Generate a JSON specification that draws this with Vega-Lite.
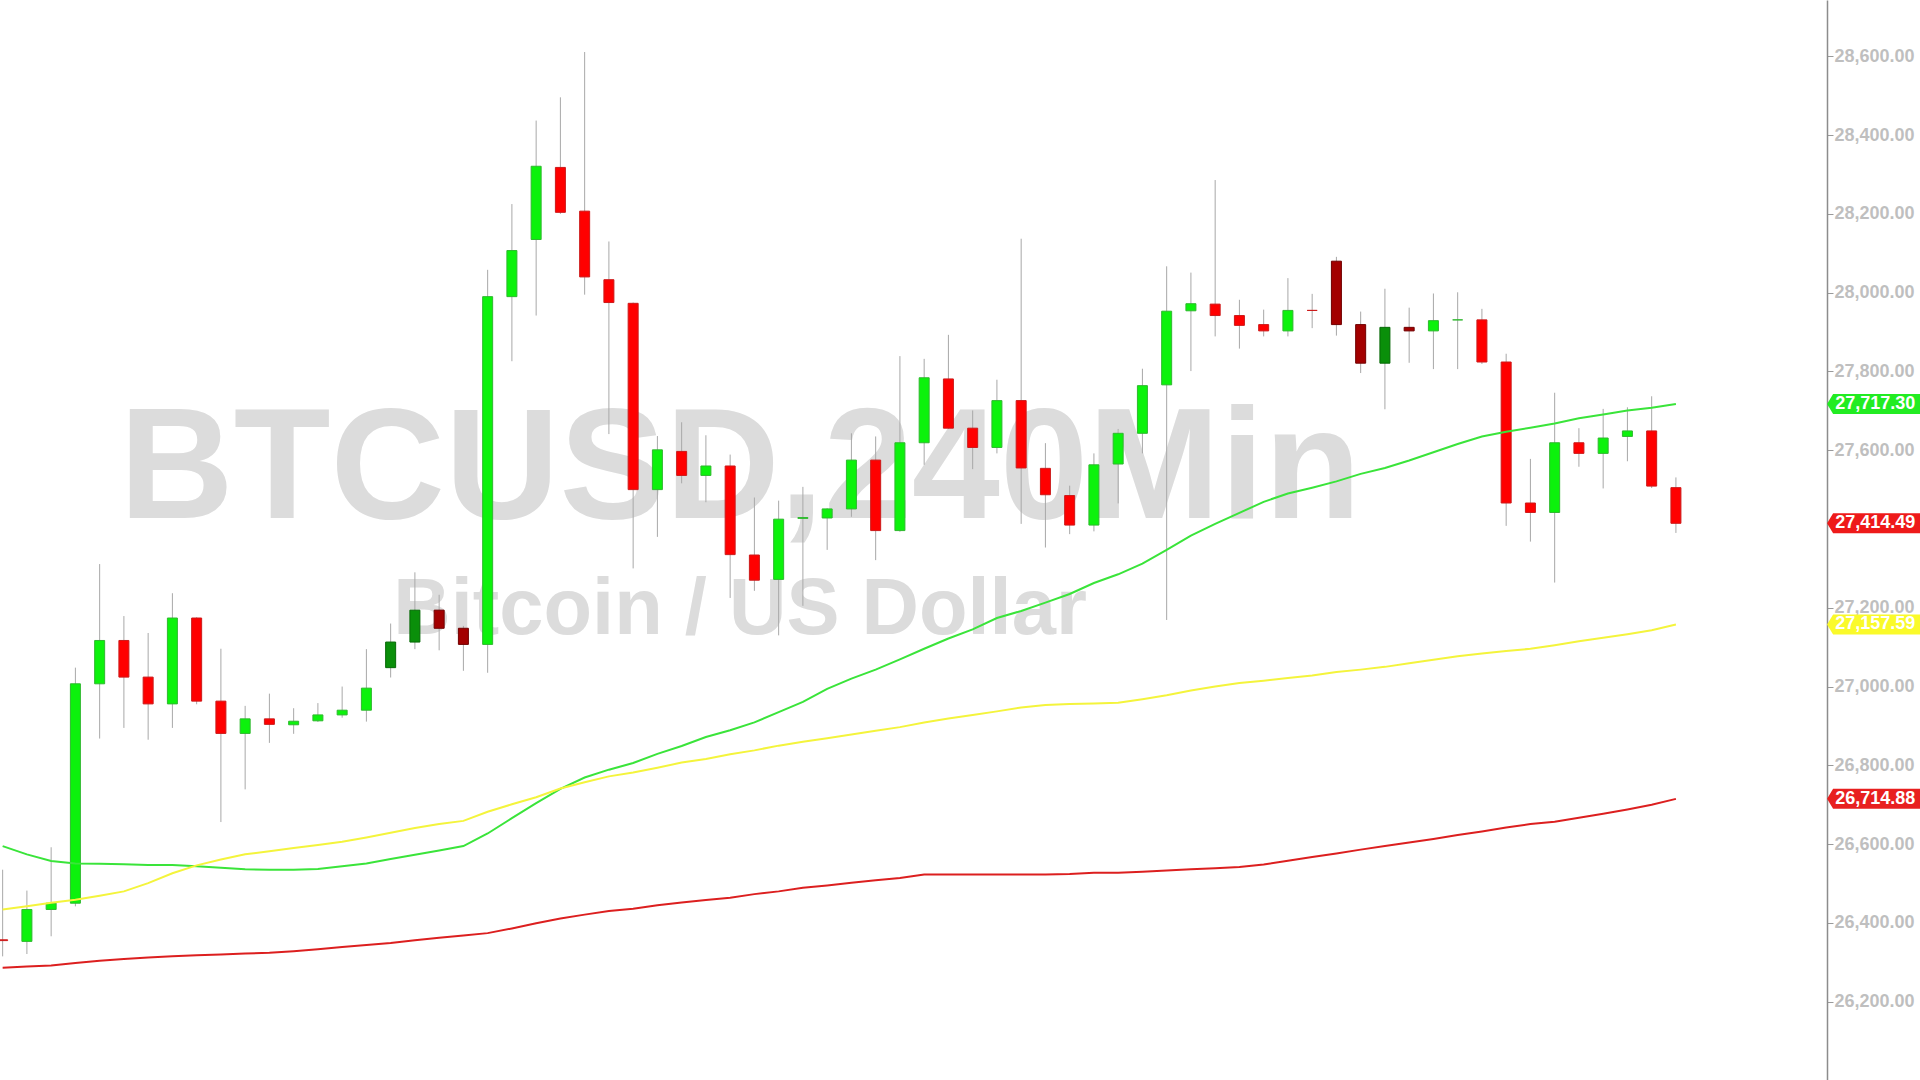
{
  "$schema": "https://vega.github.io/schema/vega-lite/v6.json",
  "width": 1827,
  "height": 1080,
  "autosize": {"type": "none"},
  "padding": {"left": 0, "top": 0, "right": 93, "bottom": 0},
  "background": "#ffffff",
  "config": {
    "view": {"stroke": null},
    "axisY": {"title": null, "grid": false, "domainColor": "#8c8c8c", "domainWidth": 1.5, "tickColor": "#9a9a9a", "tickSize": 6, "tickWidth": 1,
              "labelFont": "Liberation Sans", "labelFontSize": 18, "labelFontWeight": "bold", "labelColor": "#bfbfbf", "labelPadding": 1,
              "labelOverlap": false, "labelFlush": false, "zindex": 0}
  },
  "datasets": {
    "candles": [
      {"bar":0,"open":26357,"high":26535,"low":26315,"close":26355,"trend":"down","maFast":26595,"maMid":26434,"maSlow":26286},
      {"bar":1,"open":26353,"high":26482,"low":26321,"close":26434,"trend":"up","maFast":26574,"maMid":26442,"maSlow":26289},
      {"bar":2,"open":26434,"high":26592,"low":26366,"close":26450,"trend":"up","maFast":26557,"maMid":26451,"maSlow":26292},
      {"bar":3,"open":26450,"high":27048,"low":26442,"close":27007,"trend":"up","maFast":26551,"maMid":26459,"maSlow":26298},
      {"bar":4,"open":27007,"high":27311,"low":26868,"close":27117,"trend":"up","maFast":26550,"maMid":26469,"maSlow":26304},
      {"bar":5,"open":27117,"high":27179,"low":26895,"close":27024,"trend":"down","maFast":26549,"maMid":26480,"maSlow":26308},
      {"bar":6,"open":27024,"high":27136,"low":26865,"close":26956,"trend":"down","maFast":26547,"maMid":26501,"maSlow":26312},
      {"bar":7,"open":26956,"high":27237,"low":26895,"close":27174,"trend":"up","maFast":26547,"maMid":26526,"maSlow":26315},
      {"bar":8,"open":27174,"high":27176,"low":26955,"close":26963,"trend":"down","maFast":26544,"maMid":26546,"maSlow":26318},
      {"bar":9,"open":26963,"high":27096,"low":26656,"close":26881,"trend":"down","maFast":26540,"maMid":26561,"maSlow":26320},
      {"bar":10,"open":26881,"high":26951,"low":26739,"close":26918,"trend":"up","maFast":26536,"maMid":26574,"maSlow":26322},
      {"bar":11,"open":26918,"high":26982,"low":26857,"close":26904,"trend":"down","maFast":26535,"maMid":26582,"maSlow":26324},
      {"bar":12,"open":26903,"high":26945,"low":26880,"close":26912,"trend":"up","maFast":26535,"maMid":26590,"maSlow":26328},
      {"bar":13,"open":26913,"high":26958,"low":26910,"close":26928,"trend":"up","maFast":26537,"maMid":26598,"maSlow":26333},
      {"bar":14,"open":26928,"high":27000,"low":26921,"close":26940,"trend":"up","maFast":26544,"maMid":26606,"maSlow":26339},
      {"bar":15,"open":26940,"high":27095,"low":26911,"close":26996,"trend":"up","maFast":26551,"maMid":26617,"maSlow":26344},
      {"bar":16,"open":27048,"high":27160,"low":27023,"close":27113,"trend":"upDark","maFast":26562,"maMid":26629,"maSlow":26349},
      {"bar":17,"open":27113,"high":27290,"low":27095,"close":27194,"trend":"upDark","maFast":26573,"maMid":26641,"maSlow":26356},
      {"bar":18,"open":27194,"high":27233,"low":27092,"close":27148,"trend":"downDark","maFast":26584,"maMid":26651,"maSlow":26362},
      {"bar":19,"open":27148,"high":27154,"low":27040,"close":27107,"trend":"downDark","maFast":26595,"maMid":26659,"maSlow":26368},
      {"bar":20,"open":27107,"high":28058,"low":27035,"close":27990,"trend":"up","maFast":26627,"maMid":26682,"maSlow":26374},
      {"bar":21,"open":27990,"high":28225,"low":27826,"close":28107,"trend":"up","maFast":26666,"maMid":26701,"maSlow":26386},
      {"bar":22,"open":28135,"high":28437,"low":27942,"close":28321,"trend":"up","maFast":26704,"maMid":26719,"maSlow":26399},
      {"bar":23,"open":28318,"high":28496,"low":28200,"close":28204,"trend":"down","maFast":26740,"maMid":26741,"maSlow":26411},
      {"bar":24,"open":28207,"high":28611,"low":27995,"close":28040,"trend":"down","maFast":26769,"maMid":26757,"maSlow":26421},
      {"bar":25,"open":28033,"high":28130,"low":27641,"close":27975,"trend":"down","maFast":26789,"maMid":26772,"maSlow":26430},
      {"bar":26,"open":27973,"high":27975,"low":27300,"close":27500,"trend":"down","maFast":26806,"maMid":26782,"maSlow":26436},
      {"bar":27,"open":27500,"high":27636,"low":27380,"close":27601,"trend":"up","maFast":26829,"maMid":26794,"maSlow":26445},
      {"bar":28,"open":27597,"high":27671,"low":27516,"close":27536,"trend":"down","maFast":26849,"maMid":26807,"maSlow":26452},
      {"bar":29,"open":27536,"high":27638,"low":27468,"close":27560,"trend":"up","maFast":26872,"maMid":26816,"maSlow":26458},
      {"bar":30,"open":27560,"high":27589,"low":27225,"close":27335,"trend":"down","maFast":26889,"maMid":26828,"maSlow":26464},
      {"bar":31,"open":27334,"high":27480,"low":27243,"close":27270,"trend":"down","maFast":26909,"maMid":26838,"maSlow":26473},
      {"bar":32,"open":27272,"high":27472,"low":27130,"close":27425,"trend":"up","maFast":26935,"maMid":26850,"maSlow":26480},
      {"bar":33,"open":27427,"high":27507,"low":27205,"close":27429,"trend":"up","maFast":26961,"maMid":26860,"maSlow":26489},
      {"bar":34,"open":27428,"high":27453,"low":27347,"close":27451,"trend":"up","maFast":26994,"maMid":26869,"maSlow":26495},
      {"bar":35,"open":27451,"high":27643,"low":27431,"close":27575,"trend":"up","maFast":27020,"maMid":26878,"maSlow":26502},
      {"bar":36,"open":27575,"high":27635,"low":27321,"close":27396,"trend":"down","maFast":27043,"maMid":26888,"maSlow":26508},
      {"bar":37,"open":27396,"high":27839,"low":27393,"close":27619,"trend":"up","maFast":27069,"maMid":26897,"maSlow":26514},
      {"bar":38,"open":27619,"high":27832,"low":27563,"close":27784,"trend":"up","maFast":27096,"maMid":26909,"maSlow":26523},
      {"bar":39,"open":27781,"high":27893,"low":27654,"close":27656,"trend":"down","maFast":27122,"maMid":26919,"maSlow":26523},
      {"bar":40,"open":27656,"high":27701,"low":27552,"close":27607,"trend":"down","maFast":27145,"maMid":26928,"maSlow":26523},
      {"bar":41,"open":27607,"high":27779,"low":27592,"close":27726,"trend":"up","maFast":27174,"maMid":26937,"maSlow":26523},
      {"bar":42,"open":27726,"high":28137,"low":27413,"close":27555,"trend":"down","maFast":27192,"maMid":26947,"maSlow":26523},
      {"bar":43,"open":27554,"high":27618,"low":27353,"close":27487,"trend":"down","maFast":27213,"maMid":26953,"maSlow":26523},
      {"bar":44,"open":27485,"high":27510,"low":27387,"close":27410,"trend":"down","maFast":27235,"maMid":26956,"maSlow":26524},
      {"bar":45,"open":27410,"high":27592,"low":27394,"close":27563,"trend":"up","maFast":27263,"maMid":26957,"maSlow":26527},
      {"bar":46,"open":27565,"high":27654,"low":27465,"close":27643,"trend":"up","maFast":27285,"maMid":26959,"maSlow":26527},
      {"bar":47,"open":27643,"high":27807,"low":27592,"close":27764,"trend":"up","maFast":27312,"maMid":26968,"maSlow":26530},
      {"bar":48,"open":27766,"high":28067,"low":27169,"close":27953,"trend":"up","maFast":27347,"maMid":26978,"maSlow":26533},
      {"bar":49,"open":27954,"high":28051,"low":27801,"close":27972,"trend":"up","maFast":27383,"maMid":26990,"maSlow":26536},
      {"bar":50,"open":27971,"high":28286,"low":27889,"close":27942,"trend":"down","maFast":27413,"maMid":27000,"maSlow":26539},
      {"bar":51,"open":27942,"high":27982,"low":27858,"close":27917,"trend":"down","maFast":27441,"maMid":27009,"maSlow":26542},
      {"bar":52,"open":27919,"high":27957,"low":27889,"close":27903,"trend":"down","maFast":27469,"maMid":27015,"maSlow":26548},
      {"bar":53,"open":27903,"high":28037,"low":27889,"close":27955,"trend":"up","maFast":27490,"maMid":27022,"maSlow":26558},
      {"bar":54,"open":27955,"high":27997,"low":27910,"close":27955,"trend":"down","maFast":27505,"maMid":27028,"maSlow":26567},
      {"bar":55,"open":28080,"high":28091,"low":27891,"close":27919,"trend":"downDark","maFast":27521,"maMid":27037,"maSlow":26576},
      {"bar":56,"open":27919,"high":27952,"low":27796,"close":27821,"trend":"downDark","maFast":27540,"maMid":27043,"maSlow":26586},
      {"bar":57,"open":27821,"high":28010,"low":27704,"close":27912,"trend":"upDark","maFast":27555,"maMid":27050,"maSlow":26595},
      {"bar":58,"open":27912,"high":27962,"low":27822,"close":27903,"trend":"downDark","maFast":27574,"maMid":27059,"maSlow":26604},
      {"bar":59,"open":27903,"high":27998,"low":27806,"close":27929,"trend":"up","maFast":27595,"maMid":27068,"maSlow":26613},
      {"bar":60,"open":27931,"high":28001,"low":27806,"close":27931,"trend":"up","maFast":27616,"maMid":27077,"maSlow":26623},
      {"bar":61,"open":27931,"high":27959,"low":27819,"close":27824,"trend":"down","maFast":27635,"maMid":27084,"maSlow":26632},
      {"bar":62,"open":27824,"high":27845,"low":27408,"close":27466,"trend":"down","maFast":27647,"maMid":27090,"maSlow":26642},
      {"bar":63,"open":27466,"high":27578,"low":27368,"close":27442,"trend":"down","maFast":27657,"maMid":27096,"maSlow":26651},
      {"bar":64,"open":27442,"high":27746,"low":27264,"close":27619,"trend":"up","maFast":27668,"maMid":27105,"maSlow":26657},
      {"bar":65,"open":27619,"high":27656,"low":27558,"close":27592,"trend":"down","maFast":27681,"maMid":27115,"maSlow":26667},
      {"bar":66,"open":27592,"high":27705,"low":27503,"close":27631,"trend":"up","maFast":27691,"maMid":27124,"maSlow":26677},
      {"bar":67,"open":27635,"high":27709,"low":27572,"close":27649,"trend":"up","maFast":27701,"maMid":27133,"maSlow":26688},
      {"bar":68,"open":27649,"high":27737,"low":27504,"close":27509,"trend":"down","maFast":27708,"maMid":27143,"maSlow":26700},
      {"bar":69,"open":27505,"high":27531,"low":27390,"close":27414.49,"trend":"down","maFast":27717.30,"maMid":27157.59,"maSlow":26714.88}
    ],
    "lastValues": [
      {"series":"maFast","value":27717.30},
      {"series":"close","value":27414.49},
      {"series":"maMid","value":27157.59},
      {"series":"maSlow","value":26714.88}
    ]
  },
  "resolve": {"scale": {"fill": "independent", "stroke": "independent"}},
  "layer": [
    {
      "data": {"values": [{"label": "BTCUSD,240Min"}]},
      "mark": {"type": "text", "font": "Liberation Sans", "fontWeight": "bold", "fontSize": 158.5, "color": "#dcdcdc", "align": "center", "baseline": "alphabetic"},
      "encoding": {
        "x": {"datum": 30.41, "type": "quantitative", "scale": {"domain": [-0.109, 75.23], "nice": false, "zero": false, "padding": 0}, "axis": null},
        "y": {"datum": 27429, "type": "quantitative", "scale": {"domain": [26001.1, 28743.1], "nice": false, "zero": false, "padding": 0},
              "axis": {"orient": "right", "values": [26200, 26400, 26600, 26800, 27000, 27200, 27600, 27800, 28000, 28200, 28400, 28600], "format": ",.2f"}},
        "text": {"field": "label"}
      }
    },
    {
      "data": {"values": [{"label": "Bitcoin / US Dollar"}]},
      "mark": {"type": "text", "font": "Liberation Sans", "fontWeight": "bold", "fontSize": 79.5, "color": "#dcdcdc", "align": "center", "baseline": "alphabetic"},
      "encoding": {
        "x": {"datum": 30.41, "type": "quantitative", "scale": {"domain": [-0.109, 75.23], "nice": false, "zero": false, "padding": 0}, "axis": null},
        "y": {"datum": 27133, "type": "quantitative", "scale": {"domain": [26001.1, 28743.1], "nice": false, "zero": false, "padding": 0},
              "axis": {"orient": "right", "values": [26200, 26400, 26600, 26800, 27000, 27200, 27600, 27800, 28000, 28200, 28400, 28600], "format": ",.2f"}},
        "text": {"field": "label"}
      }
    },
    {
      "data": {"name": "candles"},
      "mark": {"type": "rule", "color": "#a8a8a8", "strokeWidth": 1},
      "encoding": {
        "x": {"field": "bar", "type": "quantitative", "scale": {"domain": [-0.109, 75.23], "nice": false, "zero": false, "padding": 0}, "axis": null},
        "y": {"field": "low", "type": "quantitative", "scale": {"domain": [26001.1, 28743.1], "nice": false, "zero": false, "padding": 0},
              "axis": {"orient": "right", "values": [26200, 26400, 26600, 26800, 27000, 27200, 27600, 27800, 28000, 28200, 28400, 28600], "format": ",.2f"}},
        "y2": {"field": "high"}
      }
    },
    {
      "data": {"name": "candles"},
      "mark": {"type": "bar", "size": 10, "strokeWidth": 1},
      "encoding": {
        "x": {"field": "bar", "type": "quantitative", "scale": {"domain": [-0.109, 75.23], "nice": false, "zero": false, "padding": 0}, "axis": null},
        "y": {"field": "open", "type": "quantitative", "scale": {"domain": [26001.1, 28743.1], "nice": false, "zero": false, "padding": 0},
              "axis": {"orient": "right", "values": [26200, 26400, 26600, 26800, 27000, 27200, 27600, 27800, 28000, 28200, 28400, 28600], "format": ",.2f"}},
        "y2": {"field": "close"},
        "fill": {"field": "trend", "type": "nominal", "legend": null,
                 "scale": {"domain": ["up", "down", "upDark", "downDark"], "range": ["#0cf20c", "#ff0000", "#0a8f0a", "#a30000"]}},
        "stroke": {"field": "trend", "type": "nominal", "legend": null,
                   "scale": {"domain": ["up", "down", "upDark", "downDark"], "range": ["#2fb82f", "#cc1a1a", "#066806", "#700000"]}}
      }
    },
    {
      "data": {"name": "candles"},
      "mark": {"type": "line", "color": "#3ae43a", "strokeWidth": 2},
      "encoding": {
        "x": {"field": "bar", "type": "quantitative", "scale": {"domain": [-0.109, 75.23], "nice": false, "zero": false, "padding": 0}, "axis": null},
        "y": {"field": "maFast", "type": "quantitative", "scale": {"domain": [26001.1, 28743.1], "nice": false, "zero": false, "padding": 0},
              "axis": {"orient": "right", "values": [26200, 26400, 26600, 26800, 27000, 27200, 27600, 27800, 28000, 28200, 28400, 28600], "format": ",.2f"}}
      }
    },
    {
      "data": {"name": "candles"},
      "mark": {"type": "line", "color": "#f4f43c", "strokeWidth": 2},
      "encoding": {
        "x": {"field": "bar", "type": "quantitative", "scale": {"domain": [-0.109, 75.23], "nice": false, "zero": false, "padding": 0}, "axis": null},
        "y": {"field": "maMid", "type": "quantitative", "scale": {"domain": [26001.1, 28743.1], "nice": false, "zero": false, "padding": 0},
              "axis": {"orient": "right", "values": [26200, 26400, 26600, 26800, 27000, 27200, 27600, 27800, 28000, 28200, 28400, 28600], "format": ",.2f"}}
      }
    },
    {
      "data": {"name": "candles"},
      "mark": {"type": "line", "color": "#dc1f1f", "strokeWidth": 2},
      "encoding": {
        "x": {"field": "bar", "type": "quantitative", "scale": {"domain": [-0.109, 75.23], "nice": false, "zero": false, "padding": 0}, "axis": null},
        "y": {"field": "maSlow", "type": "quantitative", "scale": {"domain": [26001.1, 28743.1], "nice": false, "zero": false, "padding": 0},
              "axis": {"orient": "right", "values": [26200, 26400, 26600, 26800, 27000, 27200, 27600, 27800, 28000, 28200, 28400, 28600], "format": ",.2f"}}
      }
    },
    {
      "data": {"name": "lastValues"},
      "mark": {"type": "point", "filled": true, "opacity": 1, "size": 8649, "strokeWidth": 0,
               "shape": "M-1,0L-0.87,-0.215L1,-0.215L1,0.215L-0.87,0.215Z", "clip": false},
      "encoding": {
        "x": {"datum": 77.15, "type": "quantitative", "scale": {"domain": [-0.109, 75.23], "nice": false, "zero": false, "padding": 0}, "axis": null},
        "y": {"field": "value", "type": "quantitative", "scale": {"domain": [26001.1, 28743.1], "nice": false, "zero": false, "padding": 0},
              "axis": {"orient": "right", "values": [26200, 26400, 26600, 26800, 27000, 27200, 27600, 27800, 28000, 28200, 28400, 28600], "format": ",.2f"}},
        "fill": {"field": "series", "type": "nominal", "legend": null,
                 "scale": {"domain": ["maFast", "close", "maMid", "maSlow"], "range": ["#22ec22", "#ee1a1a", "#fafa2a", "#e82020"]}}
      }
    },
    {
      "data": {"name": "lastValues"},
      "mark": {"type": "text", "font": "Liberation Sans", "fontWeight": "bold", "fontSize": 18, "color": "#ffffff", "align": "center", "baseline": "middle", "clip": false},
      "encoding": {
        "x": {"datum": 77.22, "type": "quantitative", "scale": {"domain": [-0.109, 75.23], "nice": false, "zero": false, "padding": 0}, "axis": null},
        "y": {"field": "value", "type": "quantitative", "scale": {"domain": [26001.1, 28743.1], "nice": false, "zero": false, "padding": 0},
              "axis": {"orient": "right", "values": [26200, 26400, 26600, 26800, 27000, 27200, 27600, 27800, 28000, 28200, 28400, 28600], "format": ",.2f"}},
        "text": {"field": "value", "type": "quantitative", "format": ",.2f"}
      }
    }
  ]
}
